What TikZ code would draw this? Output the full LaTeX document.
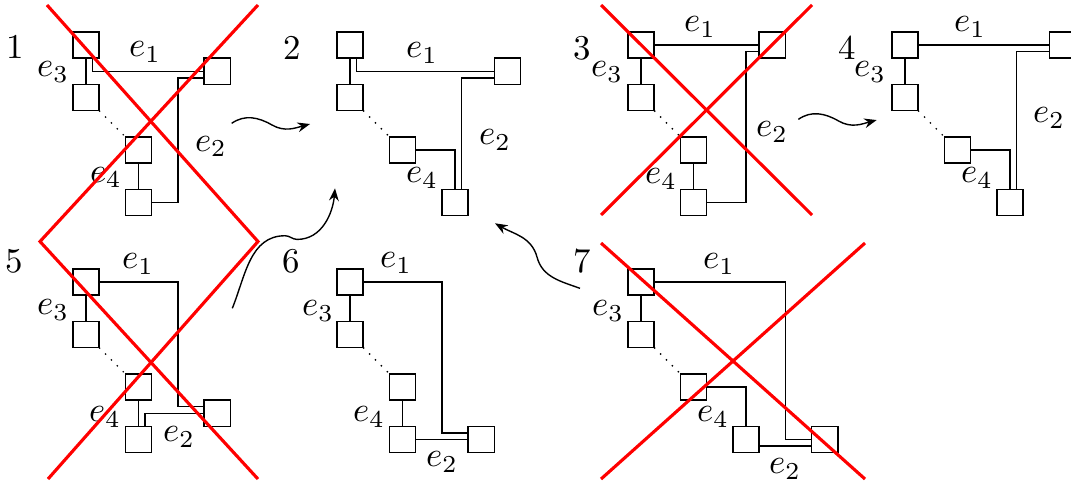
\documentclass[tikz,border=0pt]{standalone}
\usetikzlibrary{arrows.meta}
\begin{document}
\begin{tikzpicture}[
    x=0.53cm,y=0.53cm,
    cell/.style = {draw, minimum size=0.265cm, inner sep=0pt, outer sep=0pt},
    wire/.style = {line width=0.4pt},
    hop/.style  = {dotted, line width=0.4pt},
    lbl/.style  = {inner sep=0pt},
    num/.style  = {inner sep=0pt},
    veto/.style = {red, line width=0.9pt},
    move/.style = {-{Stealth[length=3.6pt,width=2.8pt,inset=1.2pt]}, line width=0.4pt},
  ]
  \clip (0,0) rectangle (20.4,-9.2);

  % panel 1
  \begin{scope}[shift={(1.638,-0.857)}]
    \node[cell] (A1) at (0,0)      {};
    \node[cell] (B1) at (0,-1)     {};
    \node[cell] (C1) at (1,-2)     {};
    \node[cell] (D1) at (1,-3)     {};
    \node[cell] (E1) at (2.5,-0.5) {};
    \node[num] (num1) at (-1.352,-0.038) {1};
    \node[lbl] (p1e1) at (1.124,-0.133) {$e_1$};
    \node[lbl] (p1e2) at (2.380,-1.940) {$e_2$};
    \node[lbl] (p1e3) at (-0.629,-0.514) {$e_3$};
    \node[lbl] (p1e4) at (0.380,-2.530) {$e_4$};
    \draw[wire] ([xshift=1.9pt]A1.south) |- (E1.west);
    \draw[wire] ([yshift=-1.9pt]E1.west) -- ++(-0.5,0) |- (D1.east);
  \end{scope}

  % panel 2
  \begin{scope}[shift={(6.667,-0.857)}]
    \node[cell] (A2) at (0,0)    {};
    \node[cell] (B2) at (0,-1)   {};
    \node[cell] (C2) at (1,-2)   {};
    \node[cell] (D2) at (2,-3)   {};
    \node[cell] (E2) at (3,-0.5) {};
    \node[num] (num2) at (-1.105,-0.057) {2};
    \node[lbl] (p2e1) at (1.371,-0.152) {$e_1$};
    \node[lbl] (p2e2) at (2.762,-1.810) {$e_2$};
    \node[lbl] (p2e4) at (1.371,-2.533) {$e_4$};
    \draw[wire] ([xshift=1.9pt]A2.south) |- (E2.west);
    \draw[wire] ([yshift=-1.9pt]E2.west) -| ([xshift=1.9pt]D2.north);
    \draw[wire] (C2.east) -| (D2.north);
  \end{scope}

  % panel 3
  \begin{scope}[shift={(12.21,-0.857)}]
    \node[cell] (A3) at (0,0)    {};
    \node[cell] (B3) at (0,-1)   {};
    \node[cell] (C3) at (1,-2)   {};
    \node[cell] (D3) at (1,-3)   {};
    \node[cell] (E3) at (2.5,0)  {};
    \node[num] (num3) at (-1.124,-0.057) {3};
    \node[lbl] (p3e1) at (1.124,0.343)  {$e_1$};
    \node[lbl] (p3e2) at (2.495,-1.657) {$e_2$};
    \node[lbl] (p3e3) at (-0.648,-0.514) {$e_3$};
    \node[lbl] (p3e4) at (0.381,-2.552) {$e_4$};
    \draw[wire] (A3.east) -- (E3.west);
    \draw[wire] ([yshift=-1.9pt]E3.west) -- ++(-0.25,0) |- (D3.east);
  \end{scope}

  % panel 4
  \begin{scope}[shift={(17.238,-0.857)}]
    \node[cell] (A4) at (0,0)  {};
    \node[cell] (B4) at (0,-1) {};
    \node[cell] (C4) at (1,-2) {};
    \node[cell] (D4) at (2,-3) {};
    \node[cell] (E4) at (3,0)  {};
    \node[num] (num4) at (-1.105,-0.057) {4};
    \node[lbl] (p4e1) at (1.238,0.343)  {$e_1$};
    \node[lbl] (p4e2) at (2.743,-1.390) {$e_2$};
    \node[lbl] (p4e3) at (-0.667,-0.514) {$e_3$};
    \node[lbl] (p4e4) at (1.371,-2.533) {$e_4$};
    \draw[wire] (A4.east) -- (E4.west);
    \draw[wire] ([yshift=-1.9pt]E4.west) -| ([xshift=1.9pt]D4.north);
    \draw[wire] (C4.east) -| (D4.north);
  \end{scope}

  % panel 5
  \begin{scope}[shift={(1.638,-5.371)}]
    \node[cell] (A5) at (0,0)       {};
    \node[cell] (B5) at (0,-1)      {};
    \node[cell] (C5) at (1,-2)      {};
    \node[cell] (D5) at (1,-3)      {};
    \node[cell] (E5) at (2.5,-2.5)  {};
    \node[num] (num5) at (-1.371,0.4) {5};
    \node[lbl] (p5e1) at (0.990,0.343)  {$e_1$};
    \node[lbl] (p5e2) at (1.771,-2.952) {$e_2$};
    \node[lbl] (p5e3) at (-0.629,-0.533) {$e_3$};
    \node[lbl] (p5e4) at (0.362,-2.571) {$e_4$};
    \draw[wire] (A5.east) -- ++(1.5,0) |- ([yshift=1.9pt]E5.west);
    \draw[wire] (E5.west) -| ([xshift=1.9pt]D5.north);
  \end{scope}

  % panel 6
  \begin{scope}[shift={(6.667,-5.371)}]
    \node[cell] (A6) at (0,0)     {};
    \node[cell] (B6) at (0,-1)    {};
    \node[cell] (C6) at (1,-2)    {};
    \node[cell] (D6) at (1,-3)    {};
    \node[cell] (E6) at (2.5,-3)  {};
    \node[num] (num6) at (-1.124,0.4) {6};
    \node[lbl] (p6e1) at (0.876,0.362)  {$e_1$};
    \node[lbl] (p6e2) at (1.752,-3.430) {$e_2$};
    \node[lbl] (p6e3) at (-0.610,-0.552) {$e_3$};
    \node[lbl] (p6e4) at (0.362,-2.571) {$e_4$};
    \draw[wire] (A6.east) -- ++(1.5,0) |- ([yshift=1.9pt]E6.west);
    \draw[wire] (D6.east) -- (E6.west);
  \end{scope}

  % panel 7
  \begin{scope}[shift={(12.21,-5.371)}]
    \node[cell] (A7) at (0,0)     {};
    \node[cell] (B7) at (0,-1)    {};
    \node[cell] (C7) at (1,-2)    {};
    \node[cell] (D7) at (2,-3)    {};
    \node[cell] (E7) at (3.5,-3)  {};
    \node[num] (num7) at (-1.124,0.4) {7};
    \node[lbl] (p7e1) at (1.486,0.343)  {$e_1$};
    \node[lbl] (p7e2) at (2.743,-3.562) {$e_2$};
    \node[lbl] (p7e3) at (-0.629,-0.552) {$e_3$};
    \node[lbl] (p7e4) at (1.371,-2.571) {$e_4$};
    \draw[wire] (A7.east) -- ++(2.5,0) |- (E7.west);
    \draw[wire] ([yshift=-1.9pt]D7.east) -- ([yshift=-1.9pt]E7.west);
    \draw[wire] (C7.east) -| (D7.north);
  \end{scope}

  \foreach \p in {1,...,7} {
    \draw[wire] (A\p) -- (B\p);
    \draw[hop]  (B\p.south east) -- (C\p.north west);
  }
  \foreach \p in {1,3,5,6} \draw[wire] (C\p) -- (D\p);

  % rejected states
  \draw[veto] (0.895,-0.095) -- (4.914,-4.600) -- (0.914,-9.124);
  \draw[veto] (4.914,-0.095) -- (0.762,-4.600) -- (4.914,-9.124);
  \draw[veto] (11.448,-0.095) -- (15.467,-4.095);
  \draw[veto] (15.467,-0.095) -- (11.448,-4.095);
  \draw[veto] (11.448,-4.629) -- (16.476,-9.124);
  \draw[veto] (16.476,-4.629) -- (11.448,-9.124);

  % moves
  \coordinate (s12) at (4.413,-2.349);
  \coordinate (t12) at (5.905,-2.362);
  \coordinate (s34) at (15.207,-2.273);
  \coordinate (t34) at (16.699,-2.286);
  \coordinate (s52) at (4.425,-5.872);
  \coordinate (t52) at (6.381,-3.587);
  \coordinate (s72) at (11.048,-5.492);
  \coordinate (t72) at (9.429,-4.253);

  \draw[move] (s12) to[out=35,in=150] (5.18,-2.38) to[out=-30,in=195] (t12);
  \draw[move] (s34) to[out=35,in=150] (15.974,-2.305) to[out=-30,in=195] (t34);
  \draw[move] (s52) to[out=68,in=180] (5.43,-4.49) to[out=0,in=180] (5.66,-4.56)
              to[out=0,in=-95] (t52);
  \draw[move] (s72) to[out=160,in=-75] (10.23,-4.90) to[out=105,in=-30] (t72);

\end{tikzpicture}
\end{document}
